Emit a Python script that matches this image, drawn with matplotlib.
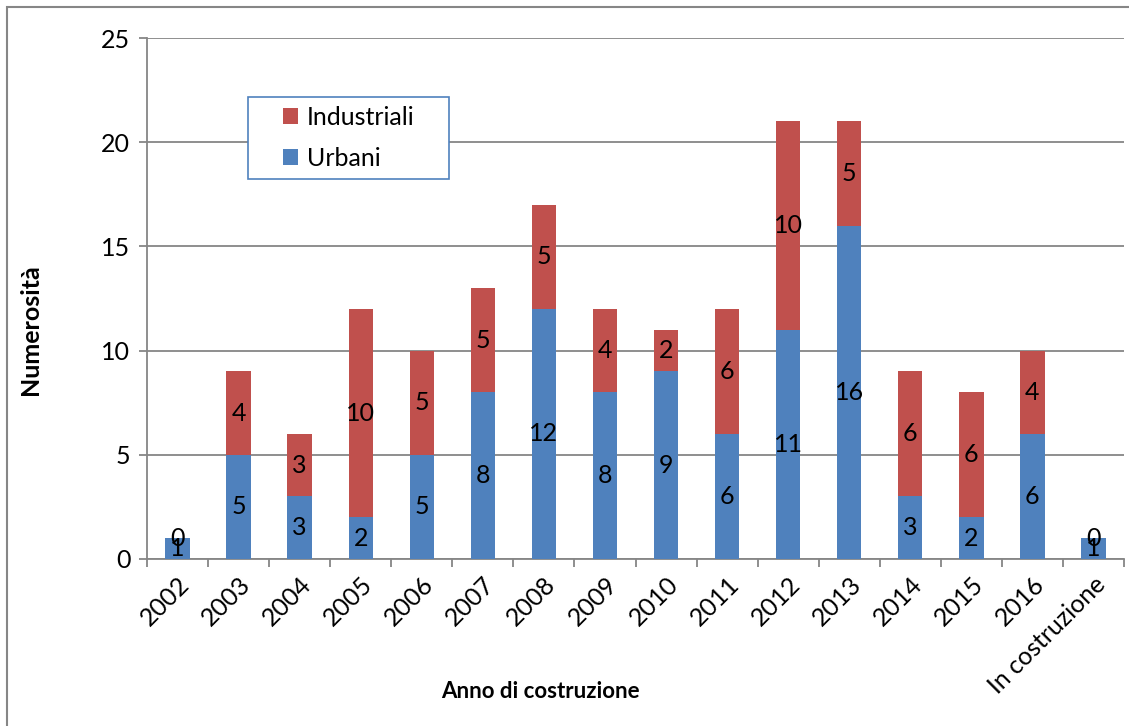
import matplotlib
matplotlib.use("Agg")
import matplotlib.pyplot as plt
from matplotlib.patches import Rectangle
import numpy as np

categories = ["2002", "2003", "2004", "2005", "2006", "2007", "2008", "2009",
              "2010", "2011", "2012", "2013", "2014", "2015", "2016", "In costruzione"]
urbani = [1, 5, 3, 2, 5, 8, 12, 8, 9, 6, 11, 16, 3, 2, 6, 1]
industriali = [0, 4, 3, 10, 5, 5, 5, 4, 2, 6, 10, 5, 6, 6, 4, 0]
yticks = [0, 5, 10, 15, 20, 25]

plt.rcParams['font.family'] = ['Lato', 'DejaVu Sans']

W, H = 1129, 726
fig = plt.figure(figsize=(W/100, H/100), dpi=100)
ax = fig.add_axes([147/W, 1-559/H, (1124-147)/W, (559-38)/H])

blue = "#4F81BD"
red = "#C0504D"
grid = "#868686"
fs = 18

x = np.arange(len(categories))
w = 0.4
ax.bar(x, urbani, w, color=blue, label="Urbani", zorder=3)
ax.bar(x, industriali, w, bottom=urbani, color=red, label="Industriali", zorder=3)

for xi, u, ind in zip(x, urbani, industriali):
    ax.text(xi, u/2, str(u), ha='center', va='center', fontsize=fs, zorder=4)
    ax.text(xi, u + ind/2, str(ind), ha='center', va='center', fontsize=fs, zorder=4)

ax.set_xlim(-0.5, len(categories) - 0.5)
ax.set_ylim(0, 25)
ax.set_yticks(yticks)
ax.yaxis.grid(True, color=grid, linewidth=1.3, zorder=0)
ax.set_axisbelow(True)

ax.set_xticks(x)
ax.set_xticklabels(categories, rotation=45, ha='right', rotation_mode='anchor', fontsize=fs)
ax.set_xticks(np.arange(len(categories) + 1) - 0.5, minor=True)
ax.tick_params(axis='x', which='major', length=0, pad=10)
ax.tick_params(axis='x', which='minor', length=6, width=1.3, color=grid)
ax.tick_params(axis='y', length=6, width=1.3, color=grid, labelsize=fs, pad=6)

for s in ['top', 'right']:
    ax.spines[s].set_visible(False)
for s in ['left', 'bottom']:
    ax.spines[s].set_color(grid)
    ax.spines[s].set_linewidth(1.3)

ax.set_ylabel("Numerosità", fontsize=18, fontweight='bold')
ax.yaxis.set_label_coords((42-147)/977, (559-330)/521)
fig.text(540/W, 1-691/H, "Anno di costruzione", fontsize=16, fontweight='bold',
         ha='center', va='center')

# legend box frame (drawn in figure pixels)
lx0, ly0, lx1, ly1 = 248, 97, 449, 179
fig.patches.append(Rectangle((lx0/W, 1-ly1/H), (lx1-lx0)/W, (ly1-ly0)/H,
                             transform=fig.transFigure, facecolor='white',
                             edgecolor=blue, linewidth=1.2, zorder=5))
handles, labels = ax.get_legend_handles_labels()
leg = fig.legend(handles[::-1], labels[::-1], loc='center',
                 bbox_to_anchor=((lx0+lx1)/2/W, 1-(ly0+ly1)/2/H),
                 frameon=False, fontsize=fs,
                 handlelength=0.6, handleheight=0.6, handletextpad=0.35,
                 borderpad=0, labelspacing=0.72, borderaxespad=0)
leg.set_zorder(6)

fig.patches.append(Rectangle((7/W, -0.1), 1.2, (H-7)/H + 0.1, transform=fig.transFigure,
                             fill=False, edgecolor=grid, linewidth=1.5))

fig.savefig("out.png", dpi=100)
